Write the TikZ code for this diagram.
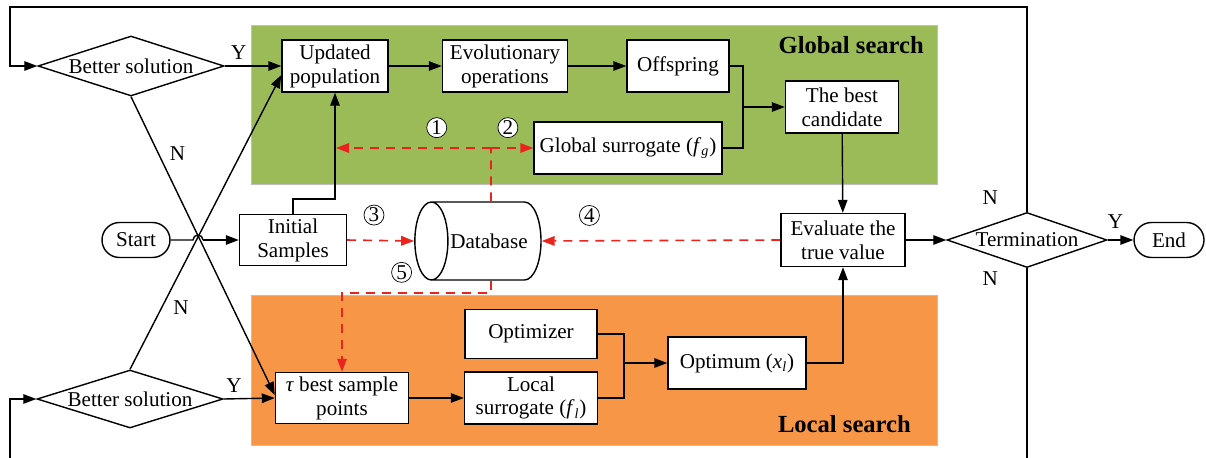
\documentclass[tikz,border=0pt]{standalone}
\usepackage{fontspec}
\setmainfont{Liberation Serif}
\usetikzlibrary{positioning, arrows.meta, shapes.geometric}

\definecolor{globalgreen}{RGB}{155,187,89}
\definecolor{localorange}{RGB}{247,150,70}
\definecolor{datared}{RGB}{235,35,30}

\begin{document}
\begin{tikzpicture}[
        x=0.2mm, y=-0.2mm,
        font=\fontsize{12}{13.6}\selectfont,
        box/.style={draw, fill=white, align=center, inner sep=1pt, line width=0.8pt, minimum height=10.4mm},
        decision/.style={diamond, draw, fill=white, aspect=3.1, inner sep=0pt, line width=0.8pt},
        terminal/.style={draw, fill=white, rounded corners=3.5mm, line width=0.8pt, minimum height=7mm},
        numbered/.style={circle, draw=black, fill=white, text=black, inner sep=0pt, minimum size=4mm, line width=0.4pt, solid},
        flow/.style={-{Triangle[length=2.6mm, width=1.9mm]}, line width=0.8pt},
        data/.style={-{Triangle[length=2.6mm, width=1.9mm]}, datared, line width=0.9pt, dash pattern=on 1.8mm off 1.4mm},
        region/.style={draw=gray!50, line width=0.4pt}
    ]
    \useasboundingbox (0,0) rectangle (1206,458);

    % search regions
    \filldraw[region, fill=globalgreen] (251,25) rectangle (937,184);
    \filldraw[region, fill=localorange] (251,295) rectangle (937,445);
    \node[anchor=east, font=\fontsize{14}{16}\selectfont\bfseries] (gslabel) at (930,45) {Global search};
    \node[anchor=east, font=\fontsize{14}{16}\selectfont\bfseries] (lslabel) at (917,424) {Local search};

    % nodes
    \node[terminal, minimum width=13.6mm] (start) at (136,240) {Start};
    \node[decision, minimum width=37.2mm, minimum height=12mm] (bs1) at (131,66) {Better solution};
    \node[decision, minimum width=37.2mm, minimum height=11.6mm] (bs2) at (130,399) {Better solution};
    \node[box, minimum width=21.2mm] (upd) at (335,66) {Updated\\population};
    \node[box, minimum width=25mm] (evo) at (505,66) {Evolutionary\\operations};
    \node[box, minimum width=20.4mm] (off) at (678,66) {Offspring};
    \node[box, minimum width=22.6mm] (best) at (842,107) {The best\\candidate};
    \node[box, minimum width=37.6mm] (gsur) at (628,148) {Global surrogate (\textit{f}\textsubscript{\textit{g}})};
    \node[box, minimum width=21.4mm, minimum height=10.2mm] (init) at (293,240) {Initial\\Samples};
    \node[cylinder, draw, fill=white, shape border rotate=180, aspect=1.8, line width=0.8pt,
          minimum width=15.6mm, minimum height=23.2mm, inner sep=1pt] (db) at (489,241) {Database};
    \node[box, minimum width=24.8mm, minimum height=10.6mm] (eval) at (843,240) {Evaluate the\\true value};
    \node[decision, minimum width=32mm, minimum height=11mm] (term) at (1027,240) {Termination};
    \node[terminal, minimum width=14mm] (end) at (1169,240) {End};
    \node[box, minimum width=26.6mm, minimum height=10.2mm] (tau) at (342,398) {\textit{τ} best sample\\points};
    \node[box, minimum width=26.4mm, minimum height=9.8mm] (optz) at (531,334) {Optimizer};
    \node[box, minimum width=26.6mm] (lsur) at (531,398) {Local\\surrogate (\textit{f}\textsubscript{\textit{l}})};
    \node[box, minimum width=27.6mm] (optm) at (737,363) {Optimum (\textit{x}\textsubscript{\textit{l}})};

    % junctions
    \coordinate (gjoin) at (743,107);
    \coordinate (ljoin) at (624,363);
    \coordinate (dbsplit) at (491,148);
    \coordinate (updline) at (336,148);

    % main flow
    \draw[line width=0.8pt] (start.east) -- (193,240) arc[start angle=180, end angle=0, radius=1mm] -- (203,240);
    \draw[flow] (203,240) -- (init.west);
    \draw[flow] (init.north) -- ++(0,-15) -| (upd.south);
    \draw[flow] (bs1.east) -- node[pos=0.25, above] {Y} (upd.west);
    \draw[flow] (bs1.south) -- node[pos=0.19, right=1mm] {N} ([yshift=0.6mm]tau.west);
    \draw[flow] (bs2.east) -- node[pos=0.2, above] {Y} (tau.west);
    \draw[flow] (bs2.north) -- node[pos=0.21, right=1mm] {N} ([yshift=-1.8mm]upd.west);
    \draw[flow] (upd) -- (evo);
    \draw[flow] (evo) -- (off);
    \draw[line width=0.8pt] (off.east) -| (gjoin);
    \draw[line width=0.8pt] (gsur.east) -| (gjoin);
    \draw[flow] (gjoin) -- (best.west);
    \draw[flow] (best) -- (eval);
    \draw[flow] (tau) -- (lsur);
    \draw[line width=0.8pt] (optz.east) -| (ljoin);
    \draw[line width=0.8pt] (lsur.east) -| (ljoin);
    \draw[flow] (ljoin) -- (optm.west);
    \draw[flow] (optm.east) -| (eval.south);
    \draw[flow] (eval) -- (term);
    \draw[flow] (term.east) -- node[pos=0.3, above=1mm] {Y} (end.west);
    \draw[flow] (term.north) -- node[pos=0.07, left=4.5mm] {N} (1027,7) -- (10,7) -- (10,66) -- (bs1.west);
    \draw[flow] (term.south) -- node[pos=0.05, left=4.5mm] {N} (1027,475) -- (10,475) -- (10,399) -- (bs2.west);

    % database links
    \draw[data] (init.east) -- node[pos=0.4, above=3mm, numbered] {3} (db.west);
    \draw[data] (eval.west) -- node[pos=0.8, above=3mm, numbered] {4} (db.east);
    \draw[data, -] ([xshift=0.4mm]db.north) -- (dbsplit);
    \draw[data] (dbsplit) -- node[pos=0.35, above=2mm, numbered] {1} (updline);
    \draw[data] (dbsplit) -- node[pos=0.4, above=2mm, numbered] {2} (gsur.west);
    \draw[data] ([xshift=0.4mm]db.south) -- ++(0,12) -| node[pos=0.3, above=2mm, numbered] {5} (tau.north);
\end{tikzpicture}
\end{document}
